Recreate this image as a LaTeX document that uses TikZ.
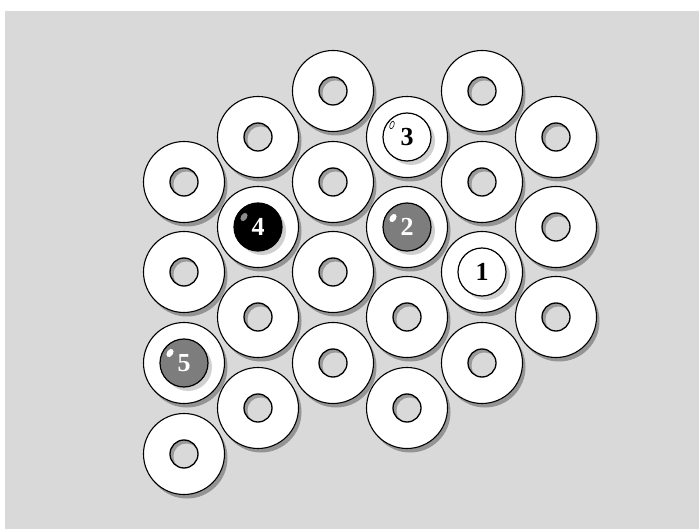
\documentclass[tikz,border=0pt]{standalone}
\usepackage{fontspec}
\setmainfont{Liberation Serif}
\usetikzlibrary{shadows, shapes.geometric}

\definecolor{bggray}{HTML}{D9D9D9}
\definecolor{holegray}{HTML}{9A9A9A}
\definecolor{ballgray}{HTML}{7D7D7D}

\tikzset{
    ring/.style={circle, draw, line width=1.1pt, fill=white, minimum size=81pt, inner sep=0pt,
        drop shadow={shadow xshift=3pt, shadow yshift=-4pt, opacity=0.6, fill=black!60}},
    hole/.style={circle, draw, line width=1.3pt, fill=holegray, minimum size=28pt, inner sep=0pt,
        path picture={\fill[bggray] ([shift={(2.5pt,-2.5pt)}]path picture bounding box.center) circle (13pt);}},
    ball/.style={circle, draw, line width=1.2pt, minimum size=48pt, inner sep=0pt,
        font=\bfseries\fontsize{26}{26}\selectfont,
        drop shadow={shadow xshift=4pt, shadow yshift=-4pt, opacity=0.3, fill=black!60}},
    shine/.style={ellipse, inner sep=0pt, minimum width=6pt, minimum height=9pt, rotate=-35}
}

\begin{document}
\begin{tikzpicture}[x=1pt, y=-1pt]
    \useasboundingbox (0,0) rectangle (699,529);
    \fill[bggray] (5,11) rectangle (699,529);

    % Draw rings
    \node[ring] (ra1) at (184,182) {};
    \node[ring] (ra2) at (184,272) {};
    \node[ring] (ra3) at (184,363) {};
    \node[ring] (ra4) at (184,454) {};
    \node[ring] (rb1) at (258,137) {};
    \node[ring] (rb2) at (258,227) {};
    \node[ring] (rb3) at (258,317) {};
    \node[ring] (rb4) at (258,408) {};
    \node[ring] (rc1) at (333,91) {};
    \node[ring] (rc2) at (333,182) {};
    \node[ring] (rc3) at (333,272) {};
    \node[ring] (rc4) at (333,363) {};
    \node[ring] (rd1) at (407,137) {};
    \node[ring] (rd2) at (407,227) {};
    \node[ring] (rd3) at (407,317) {};
    \node[ring] (rd4) at (407,408) {};
    \node[ring] (re1) at (482,91) {};
    \node[ring] (re2) at (482,182) {};
    \node[ring] (re3) at (482,272) {};
    \node[ring] (re4) at (482,363) {};
    \node[ring] (rf1) at (556,137) {};
    \node[ring] (rf2) at (556,227) {};
    \node[ring] (rf3) at (556,317) {};

    % Empty holes
    \node[hole] (ha1) at (ra1) {};
    \node[hole] (ha2) at (ra2) {};
    \node[hole] (ha4) at (ra4) {};
    \node[hole] (hb1) at (rb1) {};
    \node[hole] (hb3) at (rb3) {};
    \node[hole] (hb4) at (rb4) {};
    \node[hole] (hc1) at (rc1) {};
    \node[hole] (hc2) at (rc2) {};
    \node[hole] (hc3) at (rc3) {};
    \node[hole] (hc4) at (rc4) {};
    \node[hole] (hd3) at (rd3) {};
    \node[hole] (hd4) at (rd4) {};
    \node[hole] (he1) at (re1) {};
    \node[hole] (he2) at (re2) {};
    \node[hole] (he4) at (re4) {};
    \node[hole] (hf1) at (rf1) {};
    \node[hole] (hf2) at (rf2) {};
    \node[hole] (hf3) at (rf3) {};

    % Balls
    \node[ball, fill=white] (b1) at (re3) {1};
    \node[ball, fill=ballgray, text=white] (b2) at (rd2) {2};
    \node[ball, fill=white] (b3) at (rd1) {3};
    \node[ball, fill=black, text=white] (b4) at (rb2) {4};
    \node[ball, fill=ballgray, text=white] (b5) at (ra3) {5};

    % Highlights
    \node[shine, fill=white] (s2) at ([shift={(-14pt,9pt)}]b2.center) {};
    \node[shine, draw, line width=0.6pt, fill=white, minimum width=4pt, minimum height=8pt, rotate=15] (s3) at ([shift={(-15pt,12pt)}]b3.center) {};
    \node[shine, fill=black!45] (s4) at ([shift={(-14pt,10pt)}]b4.center) {};
    \node[shine, fill=white] (s5) at ([shift={(-14pt,10pt)}]b5.center) {};
\end{tikzpicture}
\end{document}
